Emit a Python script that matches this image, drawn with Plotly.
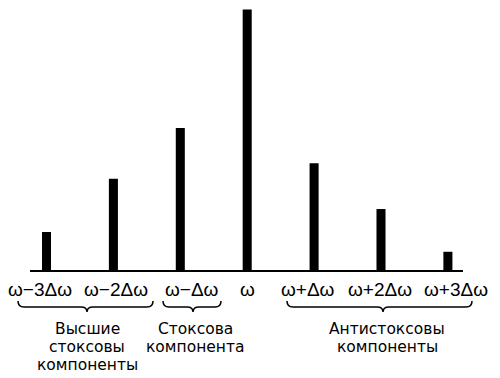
import plotly.graph_objects as go

# ---- data ----
categories = ["ω−3Δω", "ω−2Δω", "ω−Δω", "ω", "ω+Δω", "ω+2Δω", "ω+3Δω"]
intensity = [14.6, 35.0, 54.5, 100.0, 41.0, 23.4, 7.0]
group_labels = [
    ["Высшие", "стоксовы", "компоненты"],
    ["Стоксова", "компонента"],
    ["Антистоксовы", "компоненты"],
]

# ---- layout geometry (page pixels; the page body adds an 8px offset) ----
OFF = 8
PAGE_W, PAGE_H = 500, 378
W, H = PAGE_W - OFF, PAGE_H - OFF
AX_L, AX_R, BASE_Y = 30, 463, 270          # page pixels
ML, MR, MT = AX_L - OFF, PAGE_W - AX_R, 0
MB = PAGE_H - BASE_Y
PW, PH = AX_R - AX_L, BASE_Y - OFF - MT
x_first_px, x_step_px = 46.5, 66.9
x0 = (AX_L - x_first_px) / x_step_px
x1 = (AX_R - x_first_px) / x_step_px
top_px = 9.5
ymax = 100.0 * PH / (BASE_Y - top_px)

FONT = "Liberation Sans, Arial, sans-serif"
GROUP_FONT = "DejaVu Sans, sans-serif"

def fx(px):
    return (px - AX_L) / PW

def fy(py):
    return (BASE_Y - py) / PH

fig = go.Figure()
fig.add_trace(go.Bar(
    x=list(range(len(categories))), y=intensity,
    width=0.135, marker=dict(color="black", line=dict(width=0)),
    hoverinfo="skip",
))

annotations = []
label_shift = [-6.5, 2.5, 11.5, 0, -6.5, -1, 8]
for i, lab in enumerate(categories):
    annotations.append(dict(
        x=i, y=fy(289), xref="x", yref="paper", text=lab, showarrow=False,
        xanchor="center", yanchor="middle", xshift=label_shift[i],
        borderpad=0, font=dict(family=FONT, size=19, color="black"),
    ))

# braces
brace_px = [(18, 153, 87), (163, 221, 193), (287, 472, 383)]
text_cx = [87, 195, 387]
shapes = []
y0b, y1b, y2b, r = 301, 307, 312, 6
for (xa, xb, xm) in brace_px:
    pts = (f"M {fx(xa)},{fy(y0b)} Q {fx(xa)},{fy(y1b)} {fx(xa + r)},{fy(y1b)} "
           f"L {fx(xm - r)},{fy(y1b)} Q {fx(xm)},{fy(y1b)} {fx(xm)},{fy(y2b)} "
           f"Q {fx(xm)},{fy(y1b)} {fx(xm + r)},{fy(y1b)} "
           f"L {fx(xb - r)},{fy(y1b)} Q {fx(xb)},{fy(y1b)} {fx(xb)},{fy(y0b)}")
    shapes.append(dict(type="path", path=pts, xref="paper", yref="paper",
                       line=dict(color="black", width=1.5)))

line_y = [329, 347.2, 365.4]
for g, lines in enumerate(group_labels):
    for k, t in enumerate(lines):
        annotations.append(dict(
            x=fx(text_cx[g]), y=fy(line_y[k]), xref="paper", yref="paper",
            text=t, showarrow=False, xanchor="center", yanchor="middle",
            borderpad=0,
            font=dict(family=GROUP_FONT, size=15.5, color="black"),
        ))

fig.update_layout(
    width=W, height=H,
    margin=dict(l=ML, r=MR, t=MT, b=MB),
    paper_bgcolor="white", plot_bgcolor="white",
    showlegend=False,
    xaxis=dict(range=[x0, x1], showgrid=False, zeroline=False,
               showticklabels=False, ticks="", showline=True,
               linecolor="black", linewidth=2, fixedrange=True),
    yaxis=dict(range=[0, ymax], visible=False, fixedrange=True),
    annotations=annotations, shapes=shapes,
)

fig.write_html("out.html", config={"displayModeBar": False})
